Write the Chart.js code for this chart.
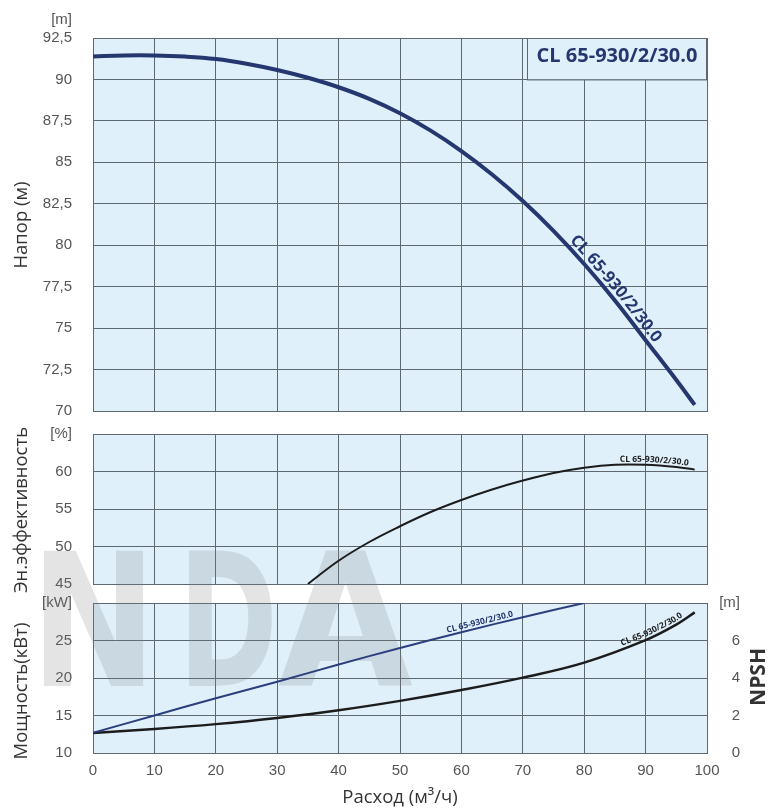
<!DOCTYPE html>
<html><head><meta charset="utf-8">
<script src="https://cdn.jsdelivr.net/npm/chart.js@4"></script>
<style>
html,body{margin:0;padding:0;background:#fff;}
body{width:769px;height:811px;position:relative;overflow:hidden;}
canvas{position:absolute;left:0;}
</style></head><body>
<canvas id="c1" width="769" height="425" style="top:0px;width:769px;height:425px"></canvas>
<canvas id="c2" width="769" height="200" style="top:411px;width:769px;height:200px"></canvas>
<canvas id="c3" width="769" height="236" style="top:575px;width:769px;height:236px"></canvas>
<script>
// ---------- DATA ----------
const modelName = 'CL 65-930/2/30.0';
const flowHead  = [0, 5, 10, 15, 20, 25, 30, 35, 40, 45, 50, 55, 60, 65, 70, 75, 80, 85, 90, 95, 98];
const headM     = [91.38, 91.45, 91.45, 91.38, 91.23, 90.95, 90.57, 90.1, 89.53, 88.83, 87.96, 86.91, 85.68, 84.27, 82.67, 80.87, 78.87, 76.67, 74.27, 71.87, 70.37];
const flowEff   = [35, 40, 45, 50, 55, 60, 65, 70, 75, 80, 85, 90, 95, 98];
const effPct    = [45.0, 48.1, 50.6, 52.7, 54.6, 56.2, 57.6, 58.8, 59.8, 60.5, 60.9, 60.9, 60.6, 60.25];
const flowPower = [0, 10, 20, 30, 40, 50, 60, 70, 80];
const powerKW   = [12.7, 15.0, 17.3, 19.5, 21.8, 24.0, 26.1, 28.1, 30.0];
const flowNpsh  = [0, 10, 20, 30, 40, 50, 60, 70, 80, 90, 95, 98];
const npshM     = [1.07, 1.28, 1.54, 1.87, 2.28, 2.78, 3.36, 4.02, 4.82, 6.02, 6.85, 7.5];
const flowTicks = {min: 0, max: 100, step: 10};
const headTicks = {min: 70, max: 92.5, step: 2.5};
const effTicks  = {min: 45, max: 65, step: 5};
const powTicks  = {min: 10, max: 30, step: 5};
const npshTicks = {min: 0, max: 8, step: 2};
const unitHead = '[m]', unitEff = '[%]', unitPow = '[kW]', unitNpsh = '[m]';
const titleHead = 'Напор (м)', titleEff = 'Эн.эффективность', titlePow = 'Мощность(кВт)', titleNpsh = 'NPSH', titleFlow = 'Расход (м³/ч)';
const watermark = ['N', 'D', 'A'];

// ---------- STYLE ----------
Chart.defaults.font.family = "'Liberation Sans', Arial, sans-serif";
Chart.defaults.color = '#555';
Chart.defaults.animation = false;
const GRID = '#5d6871';
const BG = '#dff0fb';
const NAVY = '#25376e';
const DARK = '#1c1c1c';
const TICKFONT = {size: 15, family: "'Liberation Sans', Arial, sans-serif"};
const TITLEFONT = '18.5px "Open Sans"';

const num = v => (Math.round(v * 10) / 10).toString().replace('.', ',');
const pts = (xs, ys) => xs.map((x, i) => ({x, y: ys[i]}));

function xScale(showLabels, height) {
  return {
    type: 'linear', min: flowTicks.min, max: flowTicks.max,
    ticks: {stepSize: flowTicks.step, display: showLabels, padding: 9, font: TICKFONT, color: '#555', maxRotation: 0, autoSkip: false},
    grid: {color: GRID, lineWidth: 1, drawTicks: false},
    border: {display: true, color: GRID, width: 1},
    afterFit: s => { s.height = height; },
    title: showLabels ? {display: true, text: titleFlow, font: {size: 18.5, family: '"Open Sans"'}, color: '#333', padding: {top: 0, bottom: 2}} : {display: false}
  };
}
function yScale(t, unit, pos) {
  const right = pos === 'right';
  return {
    type: 'linear', position: pos || 'left', min: t.min, max: t.max,
    ticks: {stepSize: t.step, padding: 0, font: TICKFONT, color: '#555',
            crossAlign: right ? 'far' : 'near',
            callback: v => (unit && Math.abs(v - t.max) < 1e-6) ? unit : num(v)},
    grid: {color: GRID, lineWidth: 1, drawTicks: !right, tickLength: 21, tickColor: 'rgba(0,0,0,0)', display: true, drawOnChartArea: !right},
    border: {display: !right, color: GRID, width: 1},
    afterFit: s => { s.width = right ? 33 : 93; }
  };
}
function lineDs(data, color, width, axis) {
  return {data, borderColor: color, borderWidth: width, pointRadius: 0, fill: false,
          tension: 0.4, cubicInterpolationMode: 'default', yAxisID: axis || 'y'};
}

// ---------- helpers ----------
function textOnPath(ctx, p, text, startX, offset, font, color) {
  ctx.save();
  ctx.font = font; ctx.fillStyle = color; ctx.textAlign = 'center'; ctx.textBaseline = 'alphabetic';
  const cum = [0];
  for (let i = 1; i < p.length; i++) cum[i] = cum[i - 1] + Math.hypot(p[i].x - p[i - 1].x, p[i].y - p[i - 1].y);
  const at = d => {
    for (let i = 1; i < p.length; i++) {
      if (cum[i] >= d) {
        const t = (d - cum[i - 1]) / (cum[i] - cum[i - 1]);
        return {x: p[i - 1].x + t * (p[i].x - p[i - 1].x), y: p[i - 1].y + t * (p[i].y - p[i - 1].y)};
      }
    }
    return p[p.length - 1];
  };
  let d0 = 0;
  for (let i = 1; i < p.length; i++) {
    if (p[i].x >= startX) { const t = (startX - p[i - 1].x) / (p[i].x - p[i - 1].x); d0 = cum[i - 1] + t * (cum[i] - cum[i - 1]); break; }
  }
  let d = d0;
  for (const ch of text) {
    const w = ctx.measureText(ch).width;
    const c = at(d + w / 2), a1 = at(d + w / 2 - 8), a2 = at(d + w / 2 + 8);
    const ang = Math.atan2(a2.y - a1.y, a2.x - a1.x);
    ctx.save();
    ctx.translate(c.x + Math.sin(ang) * offset, c.y - Math.cos(ang) * offset);
    ctx.rotate(ang);
    ctx.fillText(ch, 0, 0);
    ctx.restore();
    d += w;
  }
  ctx.restore();
}
function rotText(ctx, text, x, y, font, color) {
  ctx.save(); ctx.font = font; ctx.fillStyle = color; ctx.textAlign = 'center'; ctx.textBaseline = 'middle';
  ctx.translate(x, y); ctx.rotate(-Math.PI / 2); ctx.fillText(text, 0, 0); ctx.restore();
}
const bgPlugin = {id: 'bg', beforeDraw(chart) {
  const {ctx, chartArea: a} = chart; ctx.save(); ctx.fillStyle = BG; ctx.fillRect(a.left, a.top, a.right - a.left, a.bottom - a.top); ctx.restore();
}};
function watermarkPlugin(offTop, bandTop, bandBottom) {
  return {id: 'wm', beforeDatasetsDraw(chart) {
    const ctx = chart.ctx;
    ctx.save();
    ctx.beginPath(); ctx.rect(0, bandTop - offTop, 769, bandBottom - bandTop); ctx.clip();
    ctx.translate(0, -offTop);
    ctx.fillStyle = 'rgba(128,128,128,0.21)';
    ctx.font = 'bold 185px "DejaVu Sans"'; ctx.textBaseline = 'alphabetic'; ctx.textAlign = 'left';
    const xs = [30, 178, 278], ws = [127, 100, 135];
    watermark.forEach((ch, i) => ctx.fillText(ch, xs[i], 686, ws[i]));
    ctx.restore();
  }};
}
const common = (padding) => ({
  responsive: false, devicePixelRatio: 1, animation: false,
  layout: {padding},
  plugins: {legend: {display: false}, tooltip: {enabled: false}}
});

// ---------- Chart 1: head ----------
new Chart(document.getElementById('c1'), {
  type: 'line',
  data: {datasets: [lineDs(pts(flowHead, headM), NAVY, 4)]},
  options: Object.assign(common({top: 38, right: 62, left: 0, bottom: 0}), {
    scales: {x: xScale(false, 14), y: yScale(headTicks, null)}
  }),
  plugins: [bgPlugin, {
    id: 'box',
    beforeDatasetsDraw(chart) {
      const {ctx, chartArea: a, scales: {y}} = chart;
      ctx.save(); ctx.font = 'bold 20px "Open Sans"';
      const tw = ctx.measureText(modelName).width;
      const bottom = y.getPixelForValue(headTicks.max - headTicks.step);
      const left = Math.round(a.right - tw - 19);
      ctx.fillStyle = BG; ctx.fillRect(left, a.top, a.right - left, bottom - a.top);
      ctx.strokeStyle = GRID; ctx.lineWidth = 1; ctx.strokeRect(left + 0.5, a.top + 0.5, a.right - left - 1, bottom - a.top);
      ctx.fillStyle = NAVY; ctx.textAlign = 'center'; ctx.textBaseline = 'middle';
      ctx.fillText(modelName, (left + a.right) / 2, (a.top + bottom) / 2 - 2);
      ctx.restore();
    },
    afterDatasetsDraw(chart) {
      const m = chart.getDatasetMeta(0);
      const p = m.data.map(e => ({x: e.x, y: e.y}));
      textOnPath(chart.ctx, p, modelName, chart.scales.x.getPixelForValue(77), 5, 'bold 16.5px "Open Sans"', NAVY);
    },
    afterDraw(chart) {
      const ctx = chart.ctx;
      ctx.save(); ctx.font = '15px "Liberation Sans"'; ctx.fillStyle = '#555'; ctx.textAlign = 'right'; ctx.textBaseline = 'middle';
      ctx.fillText(unitHead, 72, 20); ctx.restore();
      rotText(ctx, titleHead, 22, 225, TITLEFONT, '#333');
    }
  }]
});

// ---------- Chart 2: efficiency ----------
const off2 = 411;
new Chart(document.getElementById('c2'), {
  type: 'line',
  data: {datasets: [lineDs(pts(flowEff, effPct), DARK, 2)]},
  options: Object.assign(common({top: 23, right: 62, left: 0, bottom: 0}), {
    scales: {x: xScale(false, 27), y: yScale(effTicks, unitEff)}
  }),
  plugins: [bgPlugin, watermarkPlugin(off2, 411, 594), {
    id: 'lbl2',
    afterDatasetsDraw(chart) {
      const p = chart.getDatasetMeta(0).data.map(e => ({x: e.x, y: e.y}));
      textOnPath(chart.ctx, p, modelName, chart.scales.x.getPixelForValue(85.8), 3, 'bold 8.5px "Open Sans"', DARK);
    },
    afterDraw(chart) {
      rotText(chart.ctx, titleEff, 22, 510 - off2, TITLEFONT, '#333');
    }
  }]
});

// ---------- Chart 3: power + NPSH ----------
const off3 = 575;
new Chart(document.getElementById('c3'), {
  type: 'line',
  data: {datasets: [
    lineDs(pts(flowPower, powerKW), '#2c3f7c', 2, 'y'),
    lineDs(pts(flowNpsh, npshM), DARK, 2.5, 'y2')
  ]},
  options: Object.assign(common({top: 28, right: 29, left: 0, bottom: 0}), {
    scales: {x: xScale(true, 58), y: yScale(powTicks, unitPow), y2: yScale(npshTicks, unitNpsh, 'right')}
  }),
  plugins: [bgPlugin, watermarkPlugin(off3, 594, 811), {
    id: 'lbl3',
    afterDatasetsDraw(chart) {
      const xs = chart.scales.x;
      const p0 = chart.getDatasetMeta(0).data.map(e => ({x: e.x, y: e.y}));
      textOnPath(chart.ctx, p0, modelName, xs.getPixelForValue(57.8), 3, 'bold 8.5px "Open Sans"', NAVY);
      const p1 = chart.getDatasetMeta(1).data.map(e => ({x: e.x, y: e.y}));
      textOnPath(chart.ctx, p1, modelName, xs.getPixelForValue(86.3), 3, 'bold 8.5px "Open Sans"', DARK);
    },
    afterDraw(chart) {
      rotText(chart.ctx, titlePow, 22, 691 - off3, TITLEFONT, '#333');
      rotText(chart.ctx, titleNpsh, 759, 677 - off3, 'bold 21px "Open Sans"', '#333');
    }
  }]
});
</script>
</body></html>
